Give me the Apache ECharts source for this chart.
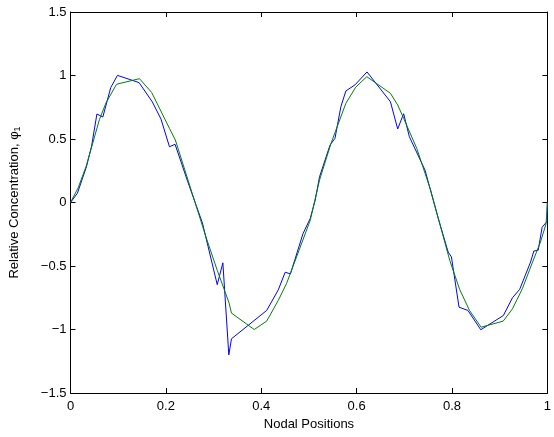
<!DOCTYPE html>
<html>
<head>
<meta charset="utf-8">
<script src="https://cdn.jsdelivr.net/npm/echarts@6/dist/echarts.min.js"></script>
<style>html,body{margin:0;padding:0;background:#fff;}#c{width:554px;height:437px;}</style>
</head>
<body>
<div id="c"></div>
<script>
var blueX = [0, 0.0145, 0.0332, 0.0442, 0.0554, 0.0678, 0.0844, 0.0985, 0.1438, 0.1716, 0.1898, 0.2075, 0.2193, 0.2455, 0.2766, 0.3077, 0.3195, 0.3320, 0.3376, 0.4114, 0.4357, 0.4502, 0.4612, 0.4876, 0.5027, 0.5131, 0.5222, 0.5442, 0.5546, 0.5670, 0.5774, 0.5965, 0.6218, 0.6708, 0.6861, 0.6986, 0.7106, 0.7434, 0.7712, 0.7919, 0.7988, 0.8147, 0.8334, 0.8604, 0.9077, 0.9268, 0.9419, 0.9647, 0.9716, 0.9807, 0.9890, 0.9994, 1.0];
var blueY = [0, 0.073, 0.279, 0.444, 0.697, 0.673, 0.905, 1.001, 0.944, 0.792, 0.657, 0.439, 0.458, 0.168, -0.161, -0.647, -0.475, -1.200, -1.073, -0.850, -0.688, -0.549, -0.562, -0.245, -0.126, 0.018, 0.202, 0.452, 0.505, 0.755, 0.878, 0.926, 1.028, 0.794, 0.579, 0.699, 0.518, 0.255, -0.126, -0.390, -0.429, -0.824, -0.850, -1.002, -0.890, -0.750, -0.684, -0.469, -0.382, -0.376, -0.195, -0.148, 0.0];
var greenX = [0, 0.016, 0.033, 0.0608, 0.0747, 0.0965, 0.1446, 0.1701, 0.2075, 0.2199, 0.2836, 0.3077, 0.3320, 0.3376, 0.3853, 0.4114, 0.4357, 0.4529, 0.4793, 0.5027, 0.5222, 0.5463, 0.5774, 0.5981, 0.6214, 0.6708, 0.6861, 0.6986, 0.7261, 0.7552, 0.7952, 0.8160, 0.8367, 0.8610, 0.9073, 0.9268, 0.9475, 0.9689, 0.9855, 0.9973, 1.0];
var greenY = [0, 0.115, 0.287, 0.655, 0.786, 0.931, 0.975, 0.867, 0.584, 0.492, -0.266, -0.534, -0.785, -0.871, -1.000, -0.934, -0.771, -0.639, -0.376, -0.140, 0.176, 0.466, 0.781, 0.908, 0.991, 0.860, 0.768, 0.663, 0.426, 0.097, -0.455, -0.684, -0.850, -0.982, -0.934, -0.837, -0.679, -0.469, -0.311, -0.166, 0.0];
var xTicks = {min: 0, max: 1, interval: 0.2};
var yTicks = {min: -1.5, max: 1.5, interval: 0.5};
var xName = 'Nodal Positions';
var yName = 'Relative Concentration, {phi|φ}{sub|1}';

function pairs(xs, ys) { return xs.map(function (x, i) { return [x, ys[i]]; }); }
var font = 'Liberation Sans, Arial, Helvetica, sans-serif';
var fs = 13;
var fmtX = function (v) { return String(Math.round(v * 10) / 10); };
var fmtY = function (v) { var s = String(Math.round(v * 10) / 10); return s.replace('-', '\u2212'); };
var axisLine = {show: true, onZero: false, lineStyle: {color: '#000', width: 1}};
var tick = {show: true, inside: true, length: 5, lineStyle: {color: '#000'}};

var chart = echarts.init(document.getElementById('c'), null, {renderer: 'canvas'});
chart.setOption({
  animation: false,
  backgroundColor: '#fff',
  grid: {left: 70, right: 2, top: 12, bottom: 44, containLabel: false},
  xAxis: [
    {type: 'value', min: xTicks.min, max: xTicks.max, interval: xTicks.interval, position: 'bottom',
     axisLine: axisLine, axisTick: tick, splitLine: {show: false},
     axisLabel: {formatter: fmtX, color: '#000', fontSize: fs, fontFamily: font, margin: 7},
     name: xName, nameLocation: 'middle', nameGap: 24,
     nameTextStyle: {color: '#000', fontSize: fs, fontFamily: font}},
    {type: 'value', min: xTicks.min, max: xTicks.max, interval: xTicks.interval, position: 'top',
     axisLine: axisLine, axisTick: tick, splitLine: {show: false}, axisLabel: {show: false}}
  ],
  yAxis: [
    {type: 'value', min: yTicks.min, max: yTicks.max, interval: yTicks.interval, position: 'left',
     axisLine: axisLine, axisTick: tick, splitLine: {show: false},
     axisLabel: {formatter: fmtY, color: '#000', fontSize: fs, fontFamily: font, margin: 4},
     name: yName, nameLocation: 'middle', nameGap: 48, nameRotate: 90,
     nameTextStyle: {color: '#000', fontSize: fs, fontFamily: font,
       rich: {phi: {fontSize: fs, fontFamily: font, color: '#000'},
              sub: {fontSize: 9, fontFamily: font, color: '#000', verticalAlign: 'bottom', padding: [7, 0, 0, 0]}}}},
    {type: 'value', min: yTicks.min, max: yTicks.max, interval: yTicks.interval, position: 'right',
     axisLine: axisLine, axisTick: tick, splitLine: {show: false}, axisLabel: {show: false}}
  ],
  series: [
    {type: 'line', data: pairs(blueX, blueY), showSymbol: false, symbol: 'none',
     lineStyle: {color: '#0000ff', width: 1}, itemStyle: {color: '#0000ff'}, z: 2},
    {type: 'line', data: pairs(greenX, greenY), showSymbol: false, symbol: 'none',
     lineStyle: {color: '#008000', width: 1}, itemStyle: {color: '#008000'}, z: 3}
  ]
});
</script>
</body>
</html>
